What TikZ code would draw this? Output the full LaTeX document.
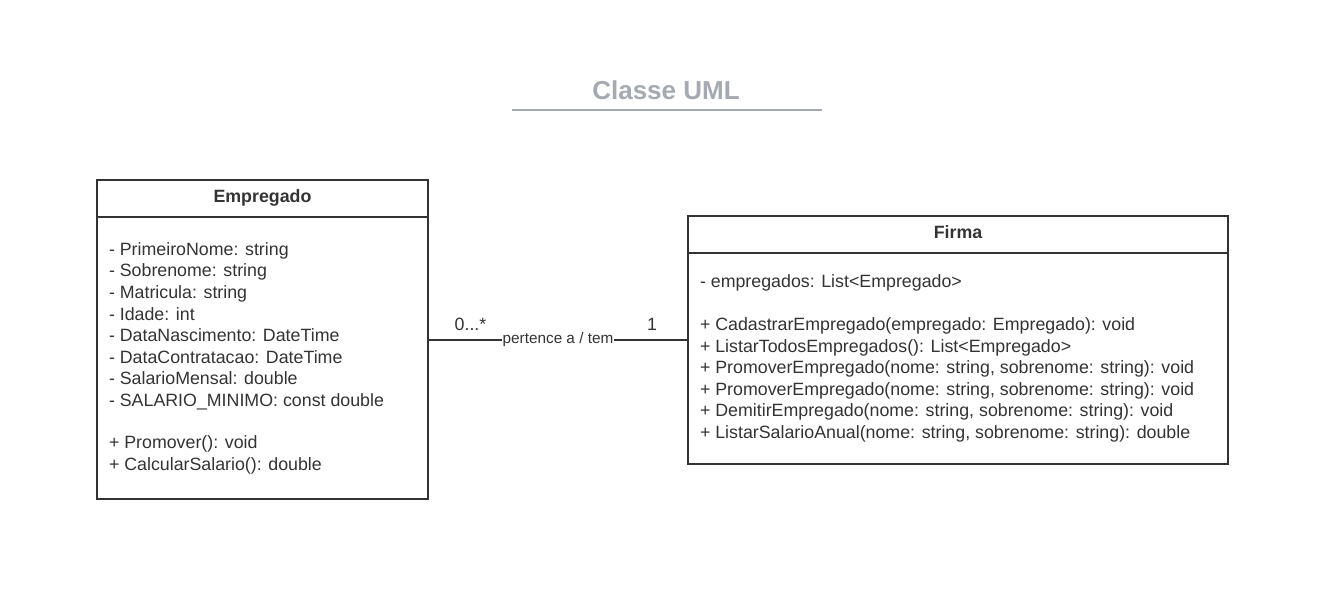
\documentclass[tikz,border=0pt]{standalone}
\usepackage{fontspec}
\setmainfont{Liberation Sans}
\usepackage{xcolor}
\usetikzlibrary{positioning}
\definecolor{umlline}{HTML}{333333}
\definecolor{titlegray}{HTML}{A5A9B2}
\newcommand{\umlfont}{\fontsize{17.8}{21.6}\selectfont}

\begin{document}
\begin{tikzpicture}[x=1pt,y=-1pt,
    every node/.style={inner sep=0pt,outer sep=0pt,text=umlline,font=\umlfont},
    classhead/.style={draw=umlline,line width=2pt,anchor=north west,minimum height=37pt,font=\umlfont\bfseries,text height=12.9pt,text depth=4pt},
    classbody/.style={draw=umlline,line width=2pt,anchor=north,minimum height=#1},
    members/.style={anchor=base west,align=left}]

    \useasboundingbox (0,0) rectangle (1338,597);

    % title
    \node[anchor=base,font=\fontsize{26}{30}\selectfont\bfseries,text=titlegray] (title) at (666,99.3) {Classe UML};
    \draw[titlegray,line width=2.5pt] (512,110) -- (822,110);

    % Empregado (members anchored at the baseline of their last line)
    \node[classhead,minimum width=331pt] (empHead) at (97,180) {Empregado};
    \node[classbody=282pt,minimum width=331pt] (empBody) at (empHead.south) {};
    \node[members] (empAttr) at (109,406.5)
        {- PrimeiroNome: string\\
         - Sobrenome: string\\
         - Matricula: string\\
         - Idade: int\\
         - DataNascimento: DateTime\\
         - DataContratacao: DateTime\\
         - SalarioMensal: double\\
         - SALARIO\_MINIMO: const double};
    \node[members] (empOps) at (109,470.5)
        {+ Promover(): void\\
         + CalcularSalario(): double};

    % Firma
    \node[classhead,minimum width=540pt] (firmaHead) at (688,216) {Firma};
    \node[classbody=211pt,minimum width=540pt] (firmaBody) at (firmaHead.south) {};
    \node[members] (firmaAttr) at (700,287.5)
        {- empregados: List<Empregado>};
    \node[members] (firmaOps) at (700,438.5)
        {+ CadastrarEmpregado(empregado: Empregado): void\\
         + ListarTodosEmpregados(): List<Empregado>\\
         + PromoverEmpregado(nome: string, sobrenome: string): void\\
         + PromoverEmpregado(nome: string, sobrenome: string): void\\
         + DemitirEmpregado(nome: string, sobrenome: string): void\\
         + ListarSalarioAnual(nome: string, sobrenome: string): double};

    % association
    \coordinate (assoc) at (558,340);
    \draw[umlline,line width=2pt] (empBody.east |- assoc) -- node[fill=white,inner sep=1pt,font=\fontsize{15.3}{18}\selectfont] (assocLabel) {pertence a / tem} (firmaBody.west |- assoc);
    \node[anchor=base] (multEmp) at (470.5,330.5) {0...*};
    \node[anchor=base] (multFirma) at (652,330.5) {1};

\end{tikzpicture}
\end{document}
